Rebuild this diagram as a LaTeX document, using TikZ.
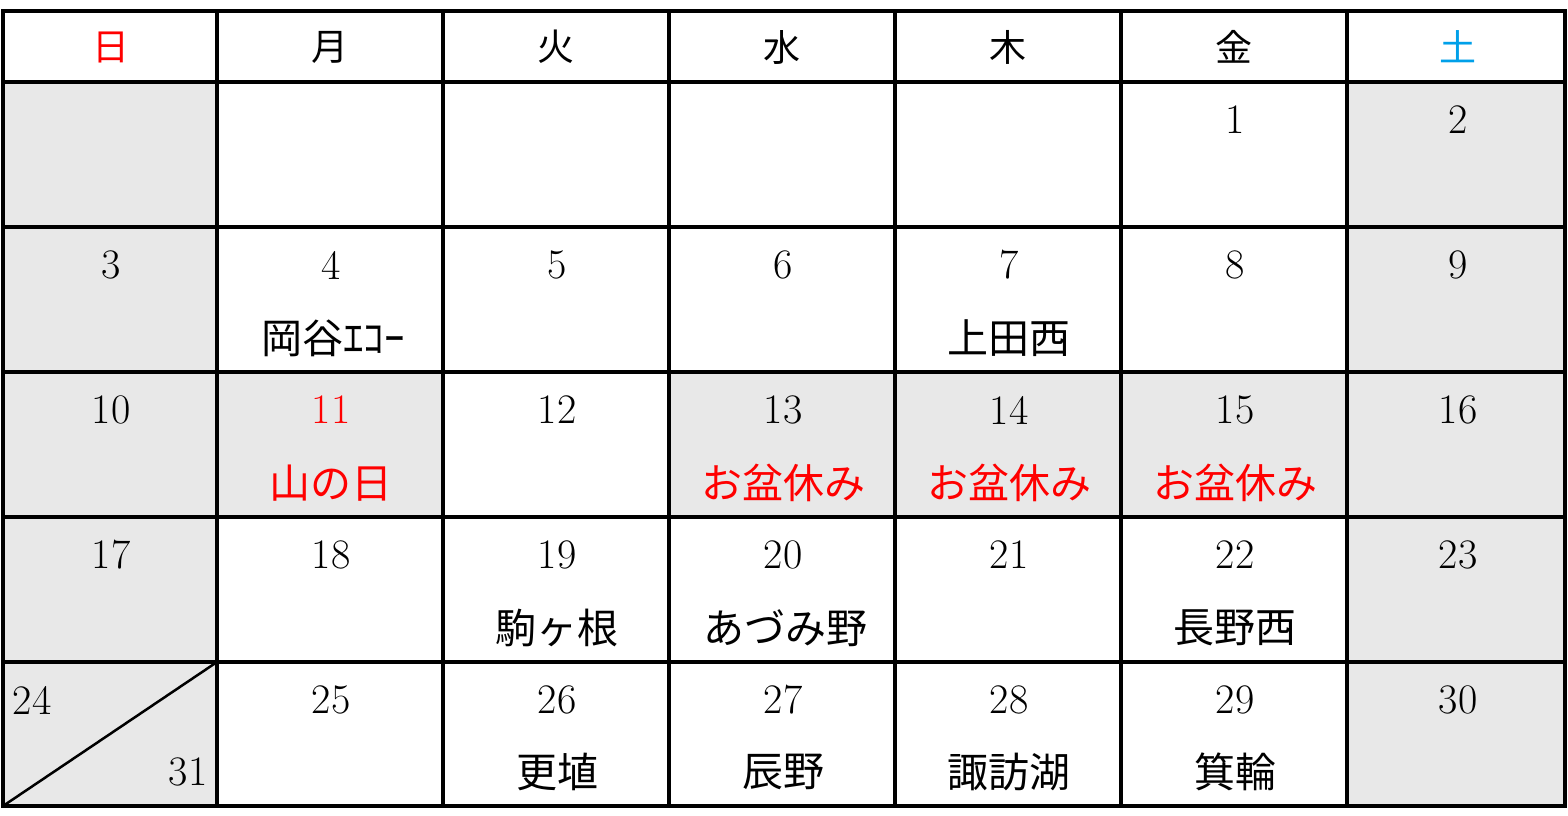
\documentclass[tikz,border=0pt]{standalone}
\usepackage{fontspec}
\newfontfamily\jp{Noto Sans CJK JP}
\definecolor{cellgrey}{HTML}{E8E8E8}
\definecolor{satblue}{HTML}{00A0E9}
\definecolor{holred}{HTML}{FF0000}
\tikzset{
  num/.style={font=\fontsize{42}{42}\selectfont, inner sep=0pt},
  lbl/.style={font=\jp\fontsize{41}{41}\selectfont, inner sep=0pt},
  hdr/.style={font=\jp\fontsize{37}{37}\selectfont, inner sep=0pt},
  hol/.style={text=holred},
  gridline/.style={line width=3.2pt, line cap=rect},
  greycell/.style={fill=cellgrey, draw=none}
}
\begin{document}
\begin{tikzpicture}[x=1pt,y=-1pt]
\useasboundingbox[fill=white] (0,0) rectangle (1568,815);
% grey cells
\fill[greycell] (3,82) rectangle (217,806);
\fill[greycell] (1347,82) rectangle (1565,806);
\fill[greycell] (217,372) rectangle (443,517);
\fill[greycell] (669,372) rectangle (1347,517);
% grid lines
\foreach \y in {11,82,227,372,517,662,806} \draw[gridline] (3,\y) -- (1565,\y);
\foreach \x in {3,217,443,669,895,1121,1347,1565} \draw[gridline] (\x,11) -- (\x,806);
\coordinate (dA) at (3,806);
\coordinate (dB) at (217,662);
\draw[line width=2.5pt] (dA) -- (dB);
% header
\node[hdr, text=holred] (h0) at (111,47) {日};
\node[hdr] (h1) at (330,47) {月};
\node[hdr] (h2) at (556,47) {火};
\node[hdr] (h3) at (782,47) {水};
\node[hdr] (h4) at (1008,47) {木};
\node[hdr] (h5) at (1234,47) {金};
\node[hdr, text=satblue] (h6) at (1458,47) {土};
% row 1
\node[num] (d1) at (1235,120) {1};
\node[num] (d2) at (1458,120) {2};
% row 2
\node[num] (d3) at (111,265) {3};
\node[num] (d4) at (331,265) {4};
\node[num] (d5) at (557,265) {5};
\node[num] (d6) at (783,265) {6};
\node[num] (d7) at (1009,265) {7};
\node[num] (d8) at (1235,265) {8};
\node[num] (d9) at (1458,265) {9};
\node[lbl] (l4) at (333,338) {岡谷ｴｺｰ};
\node[lbl] (l7) at (1009,338) {上田西};
% row 3
\node[num] (d10) at (111,410) {10};
\node[num, hol] (d11) at (331,410) {11};
\node[num] (d12) at (557,410) {12};
\node[num] (d13) at (783,410) {13};
\node[num] (d14) at (1009,410) {14};
\node[num] (d15) at (1235,410) {15};
\node[num] (d16) at (1458,410) {16};
\node[lbl, hol] (l11) at (331,483) {山の日};
\node[lbl, hol] (l13) at (783,483) {お盆休み};
\node[lbl, hol] (l14) at (1009,483) {お盆休み};
\node[lbl, hol] (l15) at (1235,483) {お盆休み};
% row 4
\node[num] (d17) at (111,555) {17};
\node[num] (d18) at (331,555) {18};
\node[num] (d19) at (557,555) {19};
\node[num] (d20) at (783,555) {20};
\node[num] (d21) at (1009,555) {21};
\node[num] (d22) at (1235,555) {22};
\node[num] (d23) at (1458,555) {23};
\node[lbl] (l19) at (557,628) {駒ヶ根};
\node[lbl] (l20) at (785,628) {あづみ野};
\node[lbl] (l22) at (1235,628) {長野西};
% row 5
\node[num] (d24) at (32,700) {24};
\node[num] (d31) at (188,772) {31};
\node[num] (d25) at (331,700) {25};
\node[num] (d26) at (557,700) {26};
\node[num] (d27) at (783,700) {27};
\node[num] (d28) at (1009,700) {28};
\node[num] (d29) at (1235,700) {29};
\node[num] (d30) at (1458,700) {30};
\node[lbl] (l26) at (557,772) {更埴};
\node[lbl] (l27) at (783,772) {辰野};
\node[lbl] (l28) at (1009,772) {諏訪湖};
\node[lbl] (l29) at (1235,772) {箕輪};
\end{tikzpicture}
\end{document}
